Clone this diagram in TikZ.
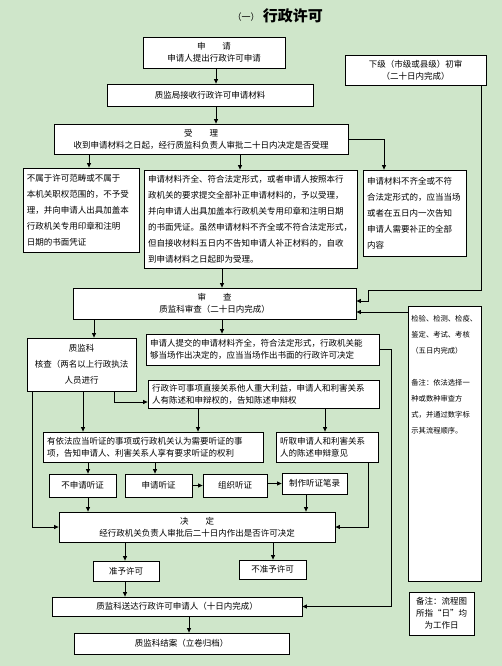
\documentclass[tikz,border=0pt]{standalone}
\usepackage{fontspec}
\setmainfont{Noto Sans CJK SC}
\usepackage{tikz}
\usetikzlibrary{arrows.meta,calc,positioning}
\definecolor{bggreen}{RGB}{207,230,202}
\newcommand\boxfont{\fontsize{8.5pt}{12pt}\selectfont}
\newcommand\loosefont{\fontsize{8.5pt}{16pt}\selectfont}

\begin{document}
\begin{tikzpicture}[x=1pt,y=-1pt,
    box/.style={draw, fill=white, line width=0.8pt, inner sep=0pt, font=\boxfont, align=center},
    tbox/.style={draw, fill=white, line width=0.8pt, inner xsep=4pt, inner ysep=0pt, font=\boxfont, align=left},
    arr/.style={line width=0.8pt, -{Triangle[length=4.5pt,width=4pt]}}]
    \fill[bggreen] (0,0) rectangle (502,666);
    \useasboundingbox (0,0) rectangle (502,666);
    \node[font=\fontsize{9pt}{10pt}\selectfont, inner sep=0pt] (num) at (246,17) {（一）};
    \node[font=\fontsize{15pt}{16pt}\selectfont\bfseries, inner sep=0pt, anchor=west] (ttl) at ([xshift=3pt,yshift=1pt]num.east) {行政许可};
    \node[box, minimum width=142pt, minimum height=31pt] (apply) at (214,52.5) {申\hspace{2em}请\\申请人提出行政许可申请};
    \node[box, minimum width=206pt, minimum height=22pt] (recv) at (210,95) {质监局接收行政许可申请材料};
    \node[box, minimum width=141pt, minimum height=30pt] (lower) at (415.5,70) {下级（市级或县级）初审\\（二十日内完成）};
    \node[box, minimum width=294pt, minimum height=30pt] (accept) at (201,139) {受\hspace{2em}理\\收到申请材料之日起，经行质监科负责人审批二十日内决定是否受理};
    \node[tbox, font=\loosefont, text width=108pt, minimum height=84pt] (reject) at (81,210) {不属于许可范畴或不属于\\本机关职权范围的，不予受\\理，并向申请人出具加盖本\\行政机关专用印章和注明\\日期的书面凭证};
    \node[tbox, font=\loosefont, text width=205pt, minimum height=98pt] (ok) at (250.5,219) {申请材料齐全、符合法定形式，或者申请人按照本行\\政机关的要求提交全部补正申请材料的，予以受理，\\并向申请人出具加盖本行政机关专用印章和注明日期\\的书面凭证。虽然申请材料不齐全或不符合法定形式，\\但自接收材料五日内不告知申请人补正材料的，自收\\到申请材料之日起即为受理。};
    \node[tbox, font=\loosefont, text width=95pt, minimum height=86pt] (notify) at (414.5,213) {申请材料不齐全或不符\\合法定形式的，应当当场\\或者在五日内一次告知\\申请人需要补正的全部\\内容};
    \node[box, minimum width=283pt, minimum height=31pt] (review) at (214.5,303.5) {审\hspace{2em}查\\质监科审查（二十日内完成）};
    \node[draw, fill=white, line width=0.8pt, minimum width=73pt, minimum height=275pt, anchor=north west] (test) at (408,306) {};
    \node[font=\fontsize{7.3pt}{16pt}\selectfont, text width=67pt, align=left, anchor=north, inner sep=0pt] (testtxt) at ([yshift=-9pt]test.north) {检验、检测、检疫、\\鉴定、考试、考核\\（五日内完成）\\[16pt]备注：依法选择一\\种或数种审查方\\式，并通过数字标\\示其流程顺序。};
    \node[box, font=\loosefont, minimum width=109pt, minimum height=53pt] (verify) at (81.5,364.5) {质监科\\核查（两名以上行政执法\\人员进行};
    \node[tbox, text width=225pt, minimum height=31pt] (onsite) at (262.5,349.5) {申请人提交的申请材料齐全，符合法定形式，行政机关能\\够当场作出决定的，应当当场作出书面的行政许可决定};
    \node[tbox, text width=223pt, minimum height=28pt] (notice) at (263.5,394) {行政许可事项直接关系他人重大利益，申请人和利害关系\\人有陈述和申辩权的，告知陈述申辩权};
    \node[tbox, text width=212pt, minimum height=30pt] (hearing) at (153,447) {有依法应当听证的事项或行政机关认为需要听证的事\\项，告知申请人、利害关系人享有要求听证的权利};
    \node[tbox, text width=94pt, minimum height=30pt] (listen) at (327,447) {听取申请人和利害关系\\人的陈述申辩意见};
    \node[box, minimum width=67pt, minimum height=23pt] (nohear) at (82.5,485.5) {不申请听证};
    \node[box, minimum width=67pt, minimum height=23pt] (hear) at (158.5,485.5) {申请听证};
    \node[box, minimum width=64pt, minimum height=23pt] (organize) at (235,485.5) {组织听证};
    \node[box, minimum width=65pt, minimum height=21pt] (record) at (314.5,483.5) {制作听证笔录};
    \node[box, minimum width=276pt, minimum height=30pt] (decide) at (197,527) {决\hspace{2em}定\\经行政机关负责人审批后二十日内作出是否许可决定};
    \node[box, minimum width=66pt, minimum height=20pt] (grant) at (126,571) {准予许可};
    \node[box, minimum width=67pt, minimum height=19pt] (deny) at (272.5,569.5) {不准予许可};
    \node[box, minimum width=250pt, minimum height=19pt] (deliver) at (177,606.5) {质监科送达行政许可申请人（十日内完成）};
    \node[box, minimum width=215pt, minimum height=21pt] (close) at (181.5,643.5) {质监科结案（立卷归档）};
    \node[box, minimum width=65pt, minimum height=43pt] (note) at (441.5,613.5) {备注：流程图\\所指“日”均\\为工作日};
    \coordinate (jog) at (368,290);
    \coordinate (rail) at (391,352);
    \coordinate (r2) at ([yshift=-8.5pt]review.east);
    \draw[arr] ([xshift=2pt]apply.south) -- ([xshift=6pt]recv.north);
    \draw[arr] ([xshift=6pt]recv.south) -- ([xshift=15pt]accept.north);
    \draw[arr] ([xshift=-112pt]accept.south) -- ([xshift=8pt]reject.north);
    \draw[arr] ([xshift=39pt]accept.south) -- ([xshift=-10.5pt]ok.north);
    \draw[arr] (accept.east) -| ([xshift=-30.5pt]notify.north);
    \draw[arr] ([xshift=65.5pt]lower.south) |- (jog) |- ([yshift=2.5pt]review.east);
    \draw[arr] (r2 -| test.west) -- (r2);
    \draw[arr] ([xshift=-28.5pt]ok.south) -- ([xshift=7.5pt]review.north);
    \draw[arr] ([xshift=-120.5pt]review.south) -- ([xshift=12.5pt]verify.north);
    \draw[arr] ([xshift=7.5pt]review.south) -- ([xshift=-40.5pt]onsite.north);
    \draw[arr] ([xshift=-49.5pt]verify.south) |- (decide.west);
    \draw[arr] ([xshift=1.5pt]verify.south) -- ([xshift=-70pt]hearing.north);
    \draw[arr] ([xshift=32.5pt]verify.south) |- ([yshift=-8pt]notice.west);
    \draw[arr] ([xshift=-65.5pt]notice.south) -- ([xshift=45pt]hearing.north);
    \draw[arr] ([xshift=61.5pt]notice.south) -- ([xshift=-2pt]listen.north);
    \draw[arr] (onsite.east) -- (onsite.east -| rail) |- (deliver.east);
    \draw[arr] ([xshift=41pt]listen.south) |- (decide.east);
    \draw[arr] ([xshift=-65pt]hearing.south) -- ([xshift=5.5pt]nohear.north);
    \draw[arr] ([xshift=2pt]hearing.south) -- ([xshift=-3.5pt]hear.north);
    \draw[arr] (hear.east) -- (organize.west);
    \draw[arr] ([yshift=2pt]organize.east) -- ([yshift=2pt]organize.east -| record.west);
    \draw[arr] ([xshift=5.5pt]nohear.south) -- ([xshift=-109pt]decide.north);
    \draw[arr] ([xshift=-8.5pt]record.south) -- ([xshift=109pt]decide.north);
    \draw[arr] ([xshift=-72pt]decide.south) -- ([xshift=-1pt]grant.north);
    \draw[arr] ([xshift=76pt]decide.south) -- ([xshift=0.5pt]deny.north);
    \draw[arr] ([xshift=-1pt]grant.south) -- ([xshift=-52pt]deliver.north);
    \draw[arr] ([xshift=12pt]deliver.south) -- ([xshift=7.5pt]close.north);
\end{tikzpicture}
\end{document}
